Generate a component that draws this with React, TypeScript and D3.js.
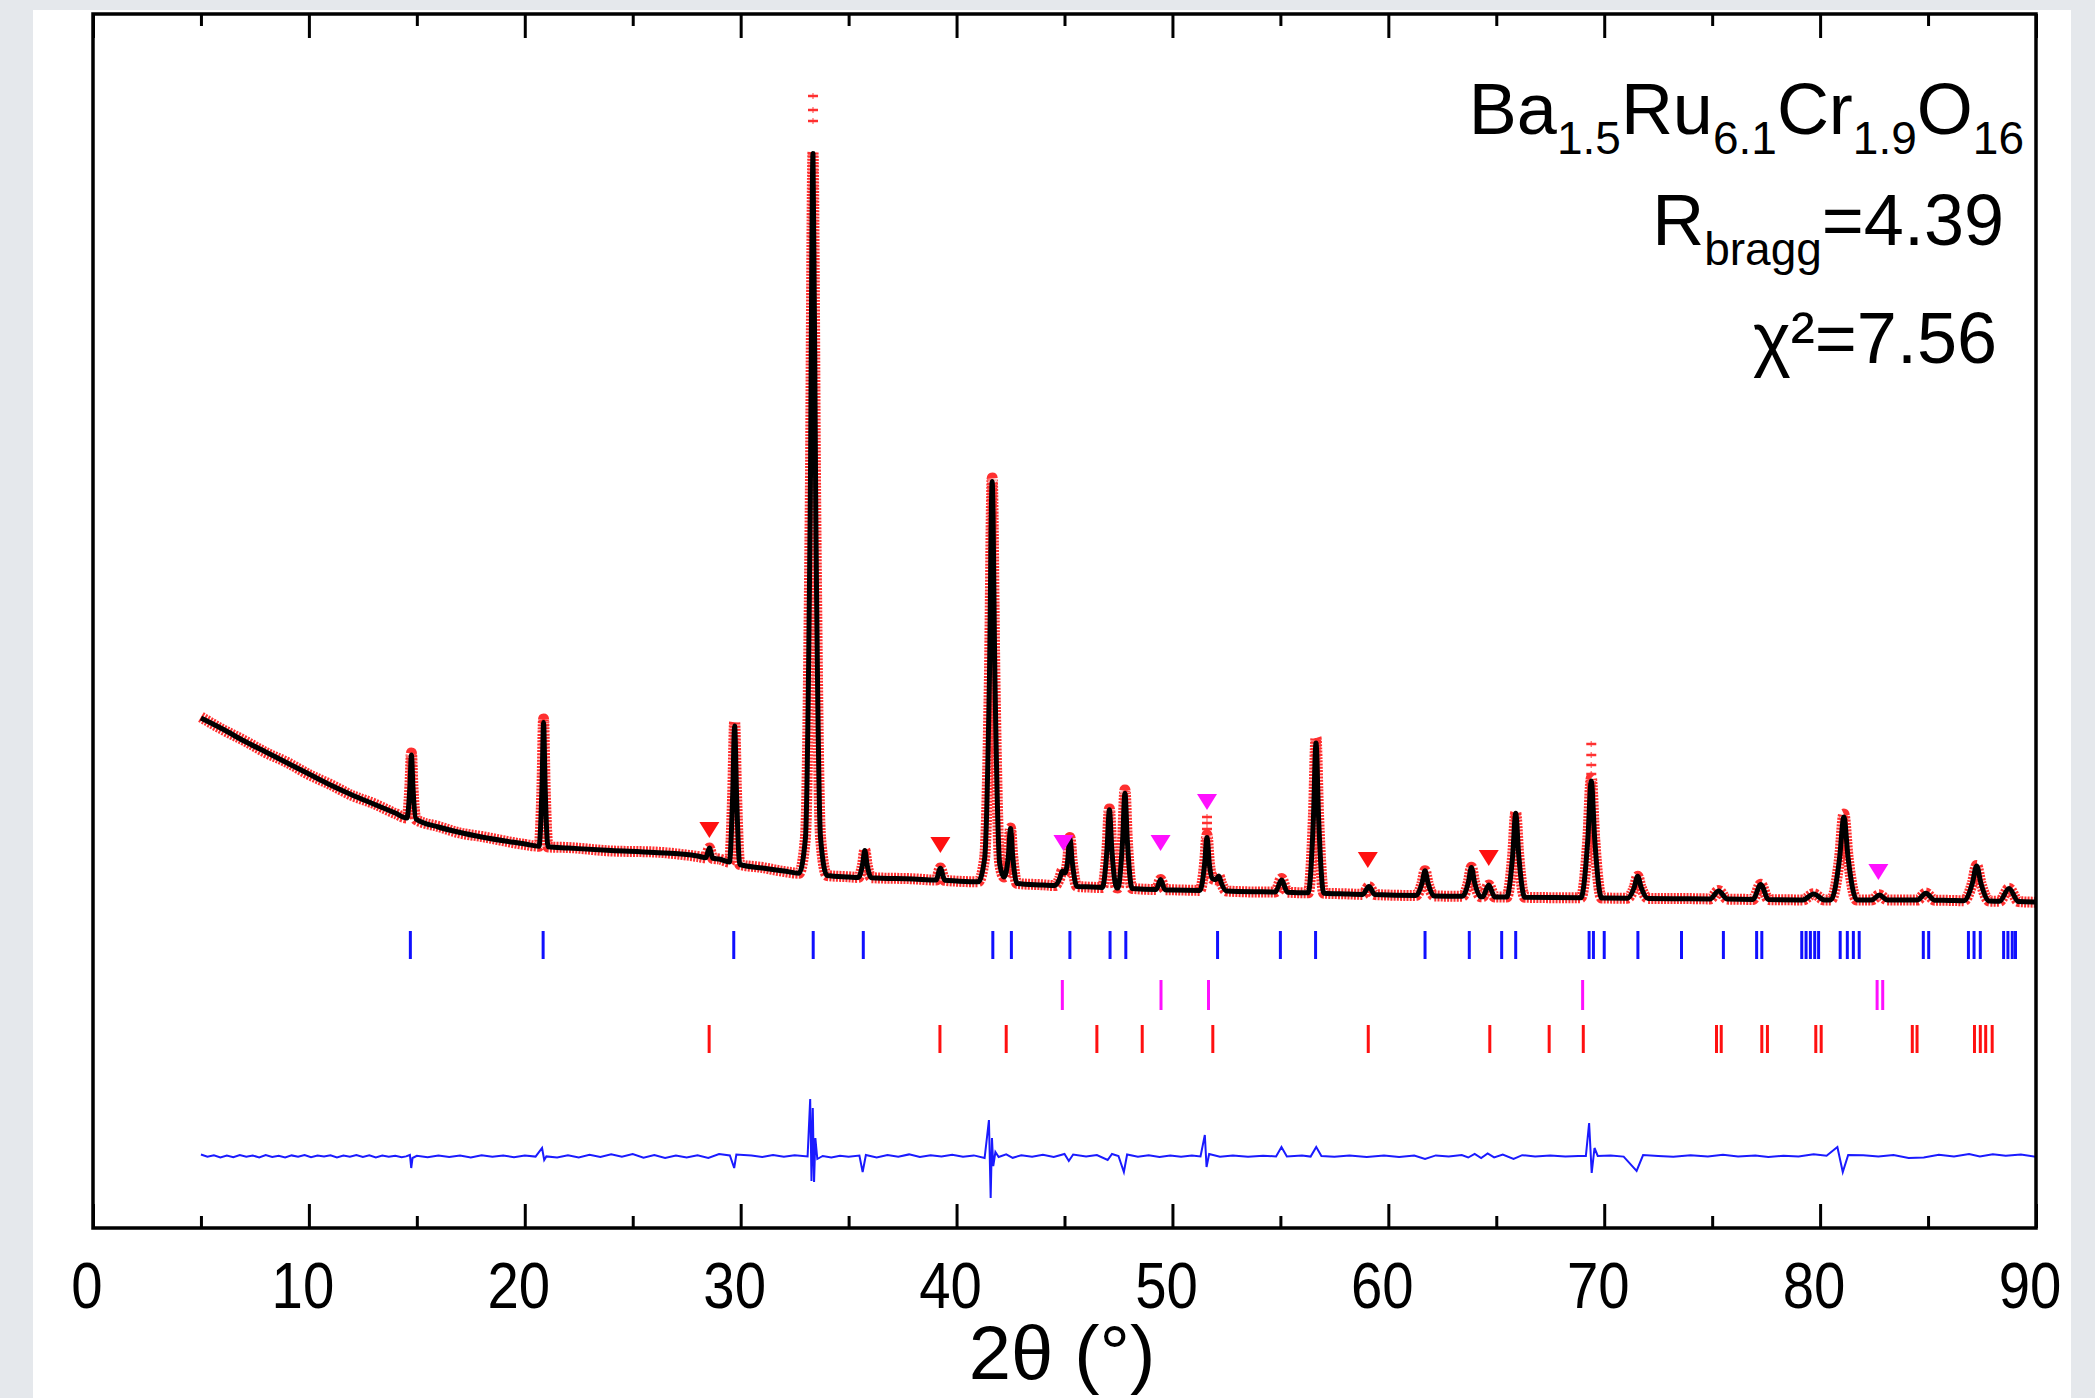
import React, { useEffect, useRef } from "react";
import * as d3 from "d3";

// ---------- data (2θ in degrees, intensity in arbitrary counts) ----------
const xTickLabels = [0, 10, 20, 30, 40, 50, 60, 70, 80, 90];
const xMinorTicks = [5, 15, 25, 35, 45, 55, 65, 75, 85];

const calcProfile: [number, number][] = [
  [5.0, 5100], [6.0, 4990], [7.0, 4870], [8.0, 4760], [9.0, 4650], [10.0, 4540], [11.0, 4430], [12.0, 4330], [13.0, 4240], [14.0, 4150],
  [14.54, 4100], [14.68, 4415], [14.75, 4730], [14.82, 4410], [14.96, 4090],
  [16.0, 4010], [17.0, 3955], [18.0, 3910], [20.0, 3840],
  [20.66, 3818], [20.8, 4435], [20.87, 5055], [20.94, 4435], [21.08, 3812],
  [22.0, 3800], [24.0, 3775], [26.0, 3755], [28.0, 3720],
  [28.39, 3703], [28.55, 3800], [28.71, 3697],
  [29.0, 3690],
  [29.48, 3660], [29.63, 4335], [29.72, 5020], [29.81, 4330], [29.96, 3635],
  [31.0, 3600], [32.0, 3570],
  [32.7, 3548], [33.0, 3900], [33.22, 7140], [33.35, 10745], [33.48, 7140], [33.7, 3900], [34.0, 3525],
  [35.0, 3510],
  [35.45, 3505], [35.65, 3640], [35.75, 3775], [35.85, 3640], [36.05, 3503],
  [38.0, 3490],
  [39.05, 3479], [39.25, 3598], [39.45, 3477],
  [40.0, 3470],
  [41.0, 3462], [41.3, 3695], [41.52, 5460], [41.65, 7465], [41.78, 5460], [42.0, 3640], [42.2, 3510], [42.4, 3720], [42.5, 3995], [42.6, 3720], [42.8, 3445],
  [44.0, 3430],
  [44.55, 3424], [44.78, 3496], [44.9, 3571], [45.02, 3550], [45.14, 3660], [45.25, 3898], [45.36, 3660], [45.58, 3415],
  [46.0, 3412],
  [46.75, 3405], [46.97, 3793], [47.08, 4183], [47.19, 3793], [47.41, 3402],
  [47.47, 3400], [47.69, 3873], [47.8, 4348], [47.91, 3873], [48.13, 3396],
  [49.25, 3385], [49.45, 3484], [49.65, 3383],
  [50.0, 3380],
  [51.27, 3376], [51.49, 3639], [51.6, 3904], [51.71, 3639], [51.85, 3494], [52.0, 3482], [52.15, 3521], [52.27, 3446], [52.5, 3370],
  [54.0, 3362],
  [54.77, 3360], [55.05, 3480], [55.33, 3358],
  [56.29, 3352], [56.53, 4100], [56.65, 4850], [56.77, 4100], [57.01, 3348],
  [58.0, 3340],
  [58.82, 3336], [59.1, 3415], [59.38, 3334],
  [61.28, 3325], [61.56, 3448], [61.7, 3573], [61.84, 3448], [62.12, 3321],
  [63.43, 3317], [63.71, 3460], [63.85, 3605], [63.99, 3460], [64.27, 3313],
  [64.37, 3312], [64.65, 3431], [64.93, 3310],
  [65.48, 3309], [65.76, 3728], [65.9, 4148], [66.04, 3728], [66.32, 3307],
  [68.92, 3302], [69.24, 3886], [69.4, 4471], [69.56, 3886], [69.88, 3300],
  [71.07, 3298], [71.39, 3407], [71.55, 3517], [71.71, 3407], [72.03, 3296],
  [74.0, 3292],
  [74.9, 3291], [75.3, 3370], [75.7, 3289],
  [76.89, 3286], [77.25, 3435], [77.61, 3284],
  [79.2, 3281], [79.7, 3340], [80.2, 3280],
  [80.5, 3280], [80.9, 3695], [81.1, 4110], [81.3, 3695], [81.7, 3280],
  [82.39, 3280], [82.75, 3330], [83.11, 3280],
  [84.5, 3279], [84.9, 3348], [85.3, 3278],
  [86.0, 3276],
  [86.65, 3273], [87.05, 3446], [87.25, 3621], [87.45, 3446], [87.85, 3269],
  [88.31, 3267], [88.75, 3395], [89.19, 3264],
  [90.0, 3260],
];

const obsProfile: [number, number][] = [
  [5.0, 5110], [6.0, 4985], [7.0, 4875], [8.0, 4755], [9.0, 4655], [10.0, 4535], [11.0, 4435], [12.0, 4325], [13.0, 4245], [14.0, 4145],
  [14.54, 4100], [14.68, 4420], [14.75, 4750], [14.82, 4410], [14.96, 4085],
  [16.0, 4015], [17.0, 3950], [18.0, 3915], [20.0, 3835],
  [20.66, 3818], [20.8, 4440], [20.87, 5090], [20.94, 4440], [21.08, 3810],
  [22.0, 3805], [24.0, 3770], [26.0, 3760], [28.0, 3715],
  [28.39, 3703], [28.55, 3800], [28.71, 3695],
  [29.0, 3690],
  [29.48, 3660], [29.63, 4340], [29.72, 5060], [29.81, 4335], [29.96, 3635],
  [31.0, 3605], [32.0, 3565],
  [32.7, 3548], [33.0, 3905], [33.22, 7150], [33.35, 10760], [33.48, 7150], [33.7, 3905], [34.0, 3525],
  [35.0, 3512],
  [35.45, 3505], [35.65, 3640], [35.75, 3780], [35.85, 3640], [36.05, 3503],
  [38.0, 3492],
  [39.05, 3479], [39.25, 3600], [39.45, 3477],
  [40.0, 3468],
  [41.0, 3462], [41.3, 3700], [41.52, 5480], [41.65, 7500], [41.78, 5480], [42.0, 3645], [42.2, 3510], [42.4, 3722], [42.5, 4000], [42.6, 3722], [42.8, 3445],
  [44.0, 3432],
  [44.55, 3424], [44.78, 3498], [44.9, 3575], [45.02, 3552], [45.14, 3662], [45.25, 3905], [45.36, 3662], [45.58, 3415],
  [46.0, 3410],
  [46.75, 3405], [46.97, 3795], [47.08, 4190], [47.19, 3795], [47.41, 3402],
  [47.47, 3400], [47.69, 3880], [47.8, 4380], [47.91, 3880], [48.13, 3396],
  [49.25, 3385], [49.45, 3486], [49.65, 3383],
  [50.0, 3382],
  [51.27, 3376], [51.49, 3650], [51.6, 3930], [51.71, 3650], [51.85, 3494], [52.0, 3482], [52.15, 3521], [52.27, 3446], [52.5, 3370],
  [54.0, 3360],
  [54.77, 3360], [55.05, 3495], [55.33, 3358],
  [56.29, 3352], [56.53, 4120], [56.65, 4900], [56.77, 4120], [57.01, 3348],
  [58.0, 3342],
  [58.82, 3336], [59.1, 3415], [59.38, 3334],
  [61.28, 3325], [61.56, 3448], [61.7, 3573], [61.84, 3448], [62.12, 3321],
  [63.43, 3317], [63.71, 3462], [63.85, 3608], [63.99, 3462], [64.27, 3313],
  [64.37, 3312], [64.65, 3431], [64.93, 3310],
  [65.48, 3309], [65.76, 3730], [65.9, 4150], [66.04, 3730], [66.32, 3307],
  [68.92, 3302], [69.24, 3890], [69.4, 4500], [69.56, 3890], [69.88, 3300],
  [71.07, 3298], [71.39, 3407], [71.55, 3517], [71.71, 3407], [72.03, 3296],
  [74.0, 3294],
  [74.9, 3291], [75.3, 3375], [75.7, 3289],
  [76.89, 3286], [77.25, 3438], [77.61, 3284],
  [79.2, 3281], [79.7, 3342], [80.2, 3280],
  [80.5, 3280], [80.9, 3700], [81.1, 4140], [81.3, 3700], [81.7, 3280],
  [82.39, 3280], [82.75, 3332], [83.11, 3280],
  [84.5, 3279], [84.9, 3350], [85.3, 3278],
  [86.0, 3276],
  [86.65, 3273], [87.05, 3448], [87.25, 3625], [87.45, 3448], [87.85, 3269],
  [88.31, 3267], [88.75, 3397], [89.19, 3264],
  [90.0, 3258],
];

// observed points that stand out above the fit near peak tops
const obsTopPoints: [number, number][] = [
  [33.35, 11320], [33.35, 11180], [33.35, 11070],
  [69.4, 4840], [69.4, 4730], [69.4, 4630], [69.4, 4540],
  [51.6, 4110], [51.6, 4050], [51.6, 3990],
];

// Yobs - Ycalc, plotted with an offset
const diffProfile: [number, number][] = [
  [5.0, 735], [5.3, 712], [5.6, 728], [5.9, 706], [6.2, 724], [6.5, 708], [6.8, 730], [7.1, 712], [7.4, 725], [7.7, 705],
  [8.0, 730], [8.3, 710], [8.6, 722], [8.9, 706], [9.2, 726], [9.5, 712], [9.8, 730], [10.1, 708], [10.4, 724], [10.7, 714],
  [11.0, 728], [11.3, 706], [11.6, 724], [11.9, 712], [12.2, 730], [12.5, 710], [12.8, 726], [13.1, 706], [13.4, 724], [13.7, 712],
  [14.0, 722], [14.3, 708], [14.5, 716],
  [14.68, 730], [14.74, 600], [14.8, 700], [15.0, 722], [15.5, 708], [16.0, 726], [16.5, 710], [17.0, 724], [17.5, 706], [18.0, 728],
  [18.5, 712], [19.0, 726], [19.5, 708], [20.0, 726], [20.5, 714], [20.8, 800], [20.9, 680], [21.0, 716], [21.5, 704], [22.0, 728],
  [22.5, 706], [23.0, 732], [23.5, 710], [24.0, 738], [24.5, 712], [25.0, 740], [25.5, 704], [26.0, 730], [26.5, 700], [27.0, 725],
  [27.5, 705], [28.0, 728], [28.5, 700], [29.0, 740], [29.5, 725], [29.7, 600], [29.8, 735], [30.5, 726], [31.0, 710], [31.5, 730],
  [32.0, 712], [32.5, 728], [33.1, 715], [33.22, 1290], [33.28, 470], [33.34, 1200], [33.4, 460], [33.46, 900], [33.55, 690], [33.8, 720],
  [34.2, 706], [34.6, 722], [35.0, 712], [35.5, 725], [35.65, 560], [35.8, 730], [36.3, 706], [36.8, 730], [37.3, 712], [37.8, 736],
  [38.3, 710], [38.8, 728], [39.3, 716], [39.8, 732], [40.3, 712], [40.8, 726], [41.3, 700], [41.5, 1080], [41.58, 300], [41.64, 900],
  [41.7, 620], [41.8, 760], [41.95, 710], [42.3, 736], [42.6, 702], [43.0, 728], [43.5, 712], [44.0, 732], [44.5, 710], [45.0, 740],
  [45.2, 670], [45.4, 735], [46.0, 714], [46.5, 730], [47.0, 680], [47.2, 740], [47.5, 720], [47.75, 560], [47.9, 735], [48.4, 712],
  [48.9, 728], [49.4, 710], [49.9, 726], [50.4, 712], [50.9, 724], [51.3, 716], [51.5, 930], [51.58, 610], [51.7, 740], [52.2, 712],
  [52.8, 726], [53.5, 712], [54.2, 722], [54.8, 716], [55.05, 810], [55.3, 716], [56.0, 724], [56.4, 714], [56.66, 810], [56.9, 720],
  [57.5, 712], [58.2, 724], [59.0, 710], [59.8, 726], [60.5, 710], [61.2, 724], [61.7, 690], [62.2, 726], [62.8, 714], [63.4, 730],
  [63.7, 705], [64.0, 742], [64.3, 700], [64.6, 745], [64.9, 706], [65.3, 735], [65.8, 690], [66.2, 728], [66.8, 716], [67.5, 724],
  [68.2, 714], [68.8, 720], [69.15, 720], [69.3, 1050], [69.42, 550], [69.55, 800], [69.7, 720], [70.3, 726], [70.9, 714], [71.5, 570],
  [71.8, 730], [72.5, 720], [73.2, 712], [74.0, 728], [74.8, 714], [75.5, 732], [76.2, 714], [77.0, 726], [77.6, 710], [78.3, 722],
  [79.0, 714], [79.7, 738], [80.3, 722], [80.8, 810], [81.05, 560], [81.3, 730], [82.0, 728], [82.7, 714], [83.4, 730], [84.1, 700],
  [84.8, 706], [85.5, 732], [86.2, 716], [86.9, 740], [87.4, 716], [88.0, 738], [88.6, 722], [89.3, 736], [90.0, 712],
];

// Bragg reflection positions (2θ) of the three phases
const braggMain = [
  14.7, 20.85, 29.68, 33.36, 35.68, 41.68, 42.54, 45.25, 47.11, 47.84, 52.09, 55.0, 56.63, 61.7, 63.75, 65.25, 65.9,
  69.3, 69.5, 70.0, 71.56, 73.58, 75.52, 77.06, 77.3, 79.15, 79.35, 79.55, 79.75, 79.93, 80.93, 81.26, 81.54, 81.81,
  84.78, 85.03, 86.87, 87.13, 87.42, 88.5, 88.7, 88.9, 89.05,
];
const braggMagenta = [44.9, 49.47, 51.67, 69.0, 82.64, 82.9];
const braggRed = [
  28.54, 39.23, 42.3, 46.5, 48.6, 51.87, 59.07, 64.7, 67.45, 69.03, 75.2, 75.42, 77.3, 77.56, 79.8, 80.05, 84.27, 84.49,
  87.15, 87.42, 87.67, 87.97,
];

// impurity peak markers [2θ, intensity]
const redMarkers: [number, number][] = [[28.55, 3980], [39.25, 3830], [59.05, 3680], [64.65, 3700]];
const magentaMarkers: [number, number][] = [[44.95, 3850], [49.45, 3850], [51.6, 4260], [82.7, 3560]];

// ---------- layout ----------
const W = 2095;
const H = 1398;
const FRAME = { left: 93, right: 2036, top: 14, bottom: 1228 };
const FONT = "'Liberation Sans', Arial, Helvetica, sans-serif";
const ROWS = [
  { ticks: braggMain, color: "#1010ff", lo: 2690, hi: 2970 },
  { ticks: braggMagenta, color: "#ff10ff", lo: 2180, hi: 2480 },
  { ticks: braggRed, color: "#ff1010", lo: 1750, hi: 2030 },
];

export default function App() {
  const ref = useRef<SVGSVGElement | null>(null);

  useEffect(() => {
    const svg = d3.select(ref.current);
    svg.selectAll("*").remove();

    const x = d3.scaleLinear().domain([0, 90]).range([FRAME.left, FRAME.right]);
    const y = d3.scaleLinear().domain([0, 12140]).range([FRAME.bottom, FRAME.top]);

    svg.append("rect").attr("width", W).attr("height", H).attr("fill", "#e5e8ec");
    svg.append("rect").attr("x", 33).attr("y", 10).attr("width", 2038).attr("height", H - 10).attr("fill", "#ffffff");

    const smooth = d3
      .line<[number, number]>()
      .x((d) => x(d[0]))
      .y((d) => y(d[1]))
      .curve(d3.curveMonotoneX);
    const straight = d3
      .line<[number, number]>()
      .x((d) => x(d[0]))
      .y((d) => y(d[1]));

    // observed (red, speckled halo)
    svg
      .append("path")
      .attr("d", smooth(obsProfile))
      .attr("fill", "none")
      .attr("stroke", "#ff1a1a")
      .attr("stroke-width", 11)
      .attr("stroke-dasharray", "2 1.2")
      .attr("stroke-linejoin", "round")
      .attr("opacity", 0.9);
    // observed points above the fit, drawn as small crosses
    const marks = svg.append("g").attr("stroke", "#ff3030").attr("stroke-width", 2.5);
    marks
      .selectAll("line.h")
      .data(obsTopPoints)
      .join("line")
      .attr("class", "h")
      .attr("x1", (d) => x(d[0]) - 5)
      .attr("x2", (d) => x(d[0]) + 5)
      .attr("y1", (d) => y(d[1]))
      .attr("y2", (d) => y(d[1]));
    marks
      .selectAll("line.v")
      .data(obsTopPoints)
      .join("line")
      .attr("class", "v")
      .attr("x1", (d) => x(d[0]))
      .attr("x2", (d) => x(d[0]))
      .attr("y1", (d) => y(d[1]) - 3)
      .attr("y2", (d) => y(d[1]) + 3)
      .attr("stroke-width", 1.5)
      .attr("opacity", 0.6);

    // calculated (black)
    svg
      .append("path")
      .attr("d", smooth(calcProfile))
      .attr("fill", "none")
      .attr("stroke", "#000")
      .attr("stroke-width", 5)
      .attr("stroke-linejoin", "round");

    // Bragg positions
    ROWS.forEach((row) => {
      svg
        .append("g")
        .selectAll("line")
        .data(row.ticks)
        .join("line")
        .attr("x1", (d) => x(d))
        .attr("x2", (d) => x(d))
        .attr("y1", y(row.lo))
        .attr("y2", y(row.hi))
        .attr("stroke", row.color)
        .attr("stroke-width", 3);
    });

    // impurity markers (down triangles)
    const tri = (cx: number, cy: number) => `M${cx - 10},${cy - 8}L${cx + 10},${cy - 8}L${cx},${cy + 8}Z`;
    svg
      .append("g")
      .selectAll("path")
      .data(redMarkers)
      .join("path")
      .attr("d", (d) => tri(x(d[0]), y(d[1])))
      .attr("fill", "#ff1010");
    svg
      .append("g")
      .selectAll("path")
      .data(magentaMarkers)
      .join("path")
      .attr("d", (d) => tri(x(d[0]), y(d[1])))
      .attr("fill", "#ff10ff");

    // difference curve
    svg
      .append("path")
      .attr("d", straight(diffProfile))
      .attr("fill", "none")
      .attr("stroke", "#1a1aff")
      .attr("stroke-width", 2);

    // frame
    svg
      .append("rect")
      .attr("x", FRAME.left)
      .attr("y", FRAME.top)
      .attr("width", FRAME.right - FRAME.left)
      .attr("height", FRAME.bottom - FRAME.top)
      .attr("fill", "none")
      .attr("stroke", "#000")
      .attr("stroke-width", 3.5);

    // ticks via d3 axes (inside)
    const addAxis = (axis: d3.Axis<d3.NumberValue>, ty: number) => {
      const g = svg.append("g").attr("transform", `translate(0,${ty})`).call(axis);
      g.select(".domain").remove();
      g.selectAll("text").remove();
      g.selectAll("line").attr("stroke", "#000").attr("stroke-width", 3);
    };
    addAxis(d3.axisBottom(x).tickValues(xTickLabels).tickSize(-24).tickFormat(() => ""), FRAME.bottom);
    addAxis(d3.axisBottom(x).tickValues(xMinorTicks).tickSize(-12).tickFormat(() => ""), FRAME.bottom);
    addAxis(d3.axisTop(x).tickValues(xTickLabels).tickSize(-24).tickFormat(() => ""), FRAME.top);
    addAxis(d3.axisTop(x).tickValues(xMinorTicks).tickSize(-12).tickFormat(() => ""), FRAME.top);

    // tick labels
    svg
      .append("g")
      .selectAll("text")
      .data(xTickLabels)
      .join("text")
      .attr("transform", (d) => `translate(${x(d) - 6},1308) scale(0.88,1)`)
      .attr("text-anchor", "middle")
      .attr("font-family", FONT)
      .attr("font-size", 64)
      .attr("fill", "#000")
      .text((d) => String(d));

    // axis title
    svg
      .append("text")
      .attr("x", 1062)
      .attr("y", 1379)
      .attr("text-anchor", "middle")
      .attr("font-family", FONT)
      .attr("font-size", 76)
      .attr("fill", "#000")
      .text("2θ (°)");

    // annotations
    const rich = (xr: number, yb: number, parts: [string, number][]) => {
      const t = svg
        .append("text")
        .attr("x", xr)
        .attr("y", yb)
        .attr("text-anchor", "end")
        .attr("font-family", FONT)
        .attr("fill", "#000");
      let cur = 0;
      parts.forEach(([s, off]) => {
        t.append("tspan")
          .attr("dy", off - cur)
          .attr("font-size", off === 0 ? 72 : 46)
          .text(s);
        cur = off;
      });
    };
    rich(2024, 134, [["Ba", 0], ["1.5", 20], ["Ru", 0], ["6.1", 20], ["Cr", 0], ["1.9", 20], ["O", 0], ["16", 20]]);
    rich(2004, 245, [["R", 0], ["bragg", 20], ["=4.39", 0]]);
    svg
      .append("text")
      .attr("x", 1997)
      .attr("y", 363)
      .attr("text-anchor", "end")
      .attr("font-family", FONT)
      .attr("font-size", 72)
      .attr("fill", "#000")
      .text("χ²=7.56");
  }, []);

  return (
    <svg
      ref={ref}
      width={W}
      height={H}
      style={{ position: "absolute", left: 0, top: 0, display: "block" }}
    />
  );
}
